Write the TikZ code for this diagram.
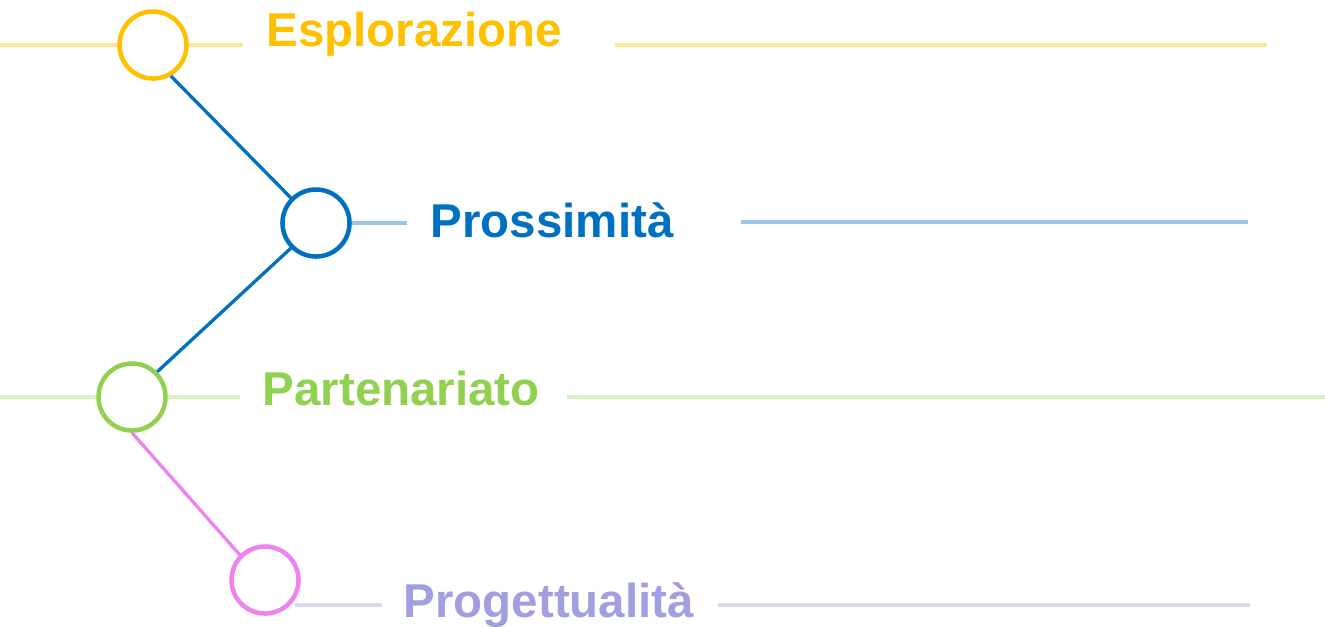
\documentclass[tikz,border=0pt]{standalone}
\usepackage{fontspec}
\setmainfont{Liberation Sans}
\usetikzlibrary{positioning}
\definecolor{espcol}{HTML}{FFC000}
\definecolor{esprule}{HTML}{FFE699}
\definecolor{procol}{HTML}{0070C0}
\definecolor{prorule}{HTML}{9DC3E6}
\definecolor{parcol}{HTML}{92D050}
\definecolor{parrule}{HTML}{D9F0C4}
\definecolor{progcol}{HTML}{A0A0E0}
\definecolor{progring}{HTML}{EE82EE}
\definecolor{progrule}{HTML}{DADAF5}
\begin{document}
\begin{tikzpicture}[
    x=0.01cm, y=-0.01cm,
    ring/.style={circle, draw, line width=0.045cm, minimum size=0.67cm, inner sep=0pt},
    stage/.style={anchor=base west, inner sep=0pt, font=\fontsize{13.5}{16}\selectfont\bfseries},
    rule/.style={line width=0.04cm},
    link/.style={line width=0.033cm}
]
\useasboundingbox (0,0) rectangle (1325,626);

% Rings
\node[ring, espcol] (esp) at (153,45) {};
\node[ring, procol] (pro) at (316,223) {};
\node[ring, parcol] (par) at (132,397) {};
\node[ring, progring] (prog) at (265,580) {};

% Labels
\node[stage, text=espcol] (esptxt) at (266,46) {Esplorazione};
\node[stage, text=procol] (protxt) at (430,237) {Prossimità};
\node[stage, text=parcol] (partxt) at (262,405) {Partenariato};
\node[stage, text=progcol] (progtxt) at (403,617) {Progettualità};

% Rule ends
\coordinate (espA) at (0,45);
\coordinate (espB) at (243,45);
\coordinate (espC) at (615,45);
\coordinate (espD) at (1267,45);
\coordinate (proB) at (407,223);
\coordinate (proC) at (741,222);
\coordinate (proD) at (1248,222);
\coordinate (parA) at (0,397);
\coordinate (parB) at (240,397);
\coordinate (parC) at (567,397);
\coordinate (parD) at (1325,397);
\coordinate (progA) at (295,605);
\coordinate (progB) at (382,605);
\coordinate (progC) at (718,605);
\coordinate (progD) at (1250,605);

% Rules
\draw[rule, esprule] (espA) -- (esp.west);
\draw[rule, esprule] (esp.east) -- (espB);
\draw[rule, esprule] (espC) -- (espD);
\draw[rule, prorule] (pro.east) -- (proB);
\draw[rule, prorule] (proC) -- (proD);
\draw[rule, parrule] (parA) -- (par.west);
\draw[rule, parrule] (par.east) -- (parB);
\draw[rule, parrule] (parC) -- (parD);
\draw[rule, progrule] (progA) -- (progB);
\draw[rule, progrule] (progC) -- (progD);

% Links
\draw[link, procol] (esp.-60) -- (pro.135);
\draw[link, procol] (pro.225) -- (par.45);
\draw[link, progring] (par.south) -- (prog.north west);

\end{tikzpicture}
\end{document}
